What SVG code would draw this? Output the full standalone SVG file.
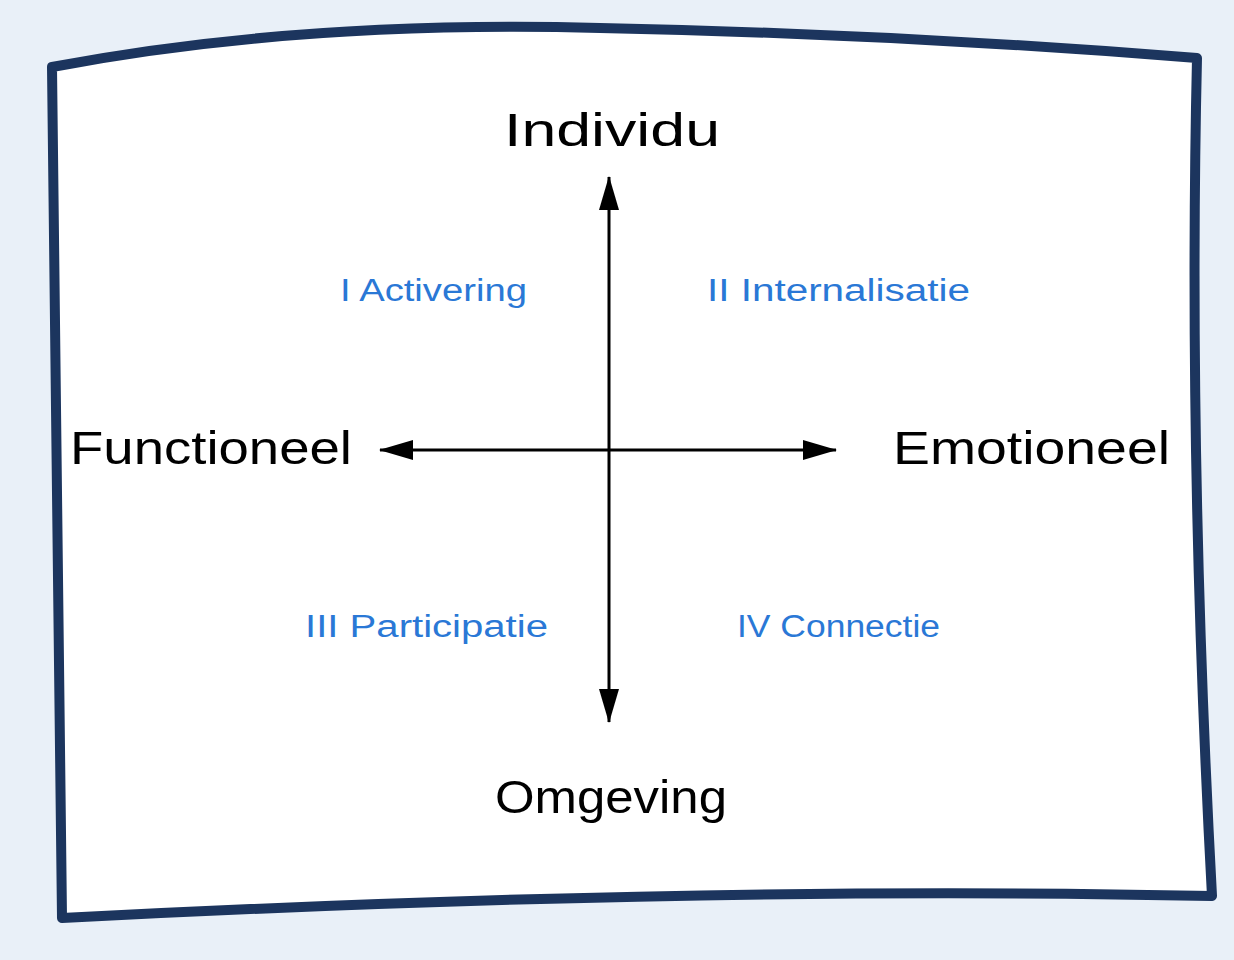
<svg xmlns="http://www.w3.org/2000/svg" width="1234" height="960" viewBox="0 0 1234 960">
<style>
.axis{stroke:#000;stroke-width:3;fill:none}
.big{font-family:"Liberation Sans","DejaVu Sans",sans-serif;font-size:46px;fill:#000}
.quad{font-family:"Liberation Sans","DejaVu Sans",sans-serif;font-size:31px;fill:#2a78d6}
</style>
<defs>
<marker id="ah" viewBox="0 0 34 20" refX="33" refY="10" markerWidth="34" markerHeight="20" markerUnits="userSpaceOnUse" orient="auto-start-reverse">
<path d="M0,0 L34,10 L0,20 Z" fill="#000"/>
</marker>
</defs>
<rect width="1234" height="960" fill="#e9f0f8"/>
<g id="frame">
<path d="M52,67 Q300,20 600,28 Q900,34 1197,58 Q1188,450 1212,896 Q700,885 62,918 Q58,500 52,67 Z" fill="#fff" stroke="#1c355e" stroke-width="10" stroke-linejoin="round"/>
</g>
<g id="connectors">
<line class="axis" x1="609" y1="722" x2="609" y2="177" marker-start="url(#ah)" marker-end="url(#ah)"/>
<line class="axis" x1="380" y1="450" x2="836" y2="450" marker-start="url(#ah)" marker-end="url(#ah)"/>
</g>
<g id="individu"><text class="big" x="504" y="146" textLength="216" lengthAdjust="spacingAndGlyphs">Individu</text></g>
<g id="functioneel"><text class="big" x="70" y="464" textLength="282" lengthAdjust="spacingAndGlyphs">Functioneel</text></g>
<g id="emotioneel"><text class="big" x="893" y="464" textLength="277" lengthAdjust="spacingAndGlyphs">Emotioneel</text></g>
<g id="omgeving"><text class="big" x="495" y="813" textLength="232" lengthAdjust="spacingAndGlyphs">Omgeving</text></g>
<g id="q1"><text class="quad" x="340" y="301" textLength="187" lengthAdjust="spacingAndGlyphs">I Activering</text></g>
<g id="q2"><text class="quad" x="707" y="301" textLength="263" lengthAdjust="spacingAndGlyphs">II Internalisatie</text></g>
<g id="q3"><text class="quad" x="305" y="637" textLength="243" lengthAdjust="spacingAndGlyphs">III Participatie</text></g>
<g id="q4"><text class="quad" x="737" y="637" textLength="203" lengthAdjust="spacingAndGlyphs">IV Connectie</text></g>
</svg>
